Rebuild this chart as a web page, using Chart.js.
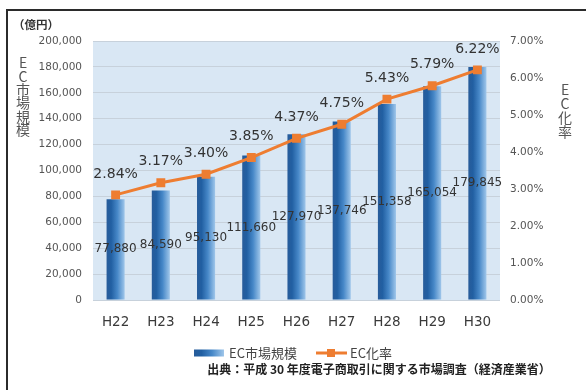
<!DOCTYPE html>
<html lang="ja">
<head>
<meta charset="utf-8">
<script src="https://cdn.jsdelivr.net/npm/chart.js@4/dist/chart.umd.min.js"></script>
<style>
  html, body { margin: 0; padding: 0; background: #fff; }
  #wrap { position: relative; width: 586px; height: 390px; }
  #frame {
    position: absolute; left: 6px; top: 9px; right: 0; bottom: 0;
    border-top: 2px solid #2b2b2b; border-left: 2px solid #2b2b2b;
    pointer-events: none;
  }
</style>
</head>
<body>
<div id="wrap">
  <canvas id="myChart" width="586" height="390"></canvas>
  <div id="frame"></div>
</div>
<script>
const years = ["H22", "H23", "H24", "H25", "H26", "H27", "H28", "H29", "H30"];
const marketSize = [77880, 84590, 95130, 111660, 127970, 137746, 151358, 165054, 179845];
const ecRate = [2.84, 3.17, 3.40, 3.85, 4.37, 4.75, 5.43, 5.79, 6.22];
const sizeTicks = [0, 200000, 20000];   // min, max, step
const rateTicks = [0, 7, 1];

const ORANGE = "#ee7d31";
const CJK = '"Noto Sans CJK JP", "Noto Sans", sans-serif';
const LATIN = '"DejaVu Sans", Verdana, sans-serif';

// horizontal shading used on each bar and the legend swatch
function barGradient(c2d, x0, x1) {
  const g = c2d.createLinearGradient(x0, 0, x1, 0);
  g.addColorStop(0, "#285c9a");
  g.addColorStop(0.25, "#215fa2");
  g.addColorStop(0.6, "#4788c8");
  g.addColorStop(1, "#9fc6ea");
  return g;
}

// light blue fill behind the plot area
const plotBackground = {
  id: "plotBackground",
  beforeDraw(chart) {
    const { ctx, chartArea: a } = chart;
    ctx.save();
    ctx.fillStyle = "#d9e7f4";
    ctx.fillRect(a.left, a.top, a.right - a.left, a.bottom - a.top);
    ctx.restore();
  },
};

// value labels: amounts in the middle of bars, rates above the points
const valueLabels = {
  id: "valueLabels",
  afterDatasetsDraw(chart) {
    const ctx = chart.ctx;
    ctx.save();
    ctx.textAlign = "center";
    ctx.textBaseline = "middle";
    ctx.fillStyle = "#333";

    ctx.font = "12px " + LATIN;
    chart.getDatasetMeta(0).data.forEach((el, i) => {
      ctx.fillText(marketSize[i].toLocaleString("en-US"), el.x, (el.y + el.base) / 2);
    });

    ctx.font = "14px " + LATIN;
    chart.getDatasetMeta(1).data.forEach((el, i) => {
      ctx.fillText(ecRate[i].toFixed(2) + "%", el.x, el.y - 21);
    });
    ctx.restore();
  },
};

// unit, stacked axis titles, legend and source line
const decorations = {
  id: "decorations",
  afterDraw(chart) {
    const ctx = chart.ctx;
    ctx.save();
    ctx.textBaseline = "middle";

    ctx.fillStyle = "#333";
    ctx.font = "bold 11.5px " + CJK;
    ctx.textAlign = "left";
    ctx.fillText("（億円）", 13, 25);

    ctx.fillStyle = "#555";
    ctx.font = "14px " + CJK;
    ctx.textAlign = "center";
    [..."EC市場規模"].forEach((ch, i) => ctx.fillText(ch, 23, 63 + i * 13.3));
    [..."EC化率"].forEach((ch, i) => ctx.fillText(ch, 565, 90 + i * 14));

    // legend
    const ly = 353;
    ctx.fillStyle = barGradient(ctx, 194, 224);
    ctx.fillRect(194, ly - 3.5, 30, 7);
    ctx.fillStyle = "#444";
    ctx.font = "13px " + CJK;
    ctx.textAlign = "left";
    ctx.fillText(chart.data.datasets[0].label, 229, ly);

    ctx.strokeStyle = ORANGE;
    ctx.lineWidth = 3;
    ctx.beginPath();
    ctx.moveTo(316, ly);
    ctx.lineTo(347, ly);
    ctx.stroke();
    ctx.fillStyle = ORANGE;
    ctx.fillRect(327, ly - 4, 8, 8);
    ctx.fillStyle = "#444";
    ctx.fillText(chart.data.datasets[1].label, 350, ly);

    // source
    ctx.fillStyle = "#222";
    ctx.font = "bold 12px " + CJK;
    ctx.textAlign = "center";
    ctx.fillText("出典：平成 30 年度電子商取引に関する市場調査（経済産業省）", 379, 369);
    ctx.restore();
  },
};

new Chart(document.getElementById("myChart"), {
  data: {
    labels: years,
    datasets: [
      {
        type: "bar",
        label: "EC市場規模",
        data: marketSize,
        yAxisID: "y",
        order: 2,
        barPercentage: 0.4,
        categoryPercentage: 1,
        backgroundColor: (c) => {
          const chart = c.chart;
          if (!chart.chartArea || c.type !== "data") return "#3a78bd";
          const x = chart.scales.x.getPixelForValue(c.dataIndex);
          return barGradient(chart.ctx, x - 9, x + 9);
        },
      },
      {
        type: "line",
        label: "EC化率",
        data: ecRate,
        yAxisID: "y1",
        order: 1,
        borderColor: ORANGE,
        borderWidth: 3,
        pointStyle: "rect",
        pointRadius: 6.3,
        pointBorderWidth: 0,
        pointBackgroundColor: ORANGE,
      },
    ],
  },
  options: {
    responsive: false,
    animation: false,
    layout: { padding: { top: 41, left: 0, right: 0, bottom: 0 } },
    plugins: {
      legend: { display: false },
      tooltip: { enabled: false },
    },
    scales: {
      x: {
        grid: { display: false, drawTicks: false },
        border: { display: false },
        ticks: { padding: 14, color: "#3a3a3a", font: { family: LATIN, size: 13.5 } },
        afterFit: (s) => { s.height = 90; },
      },
      y: {
        position: "left",
        min: sizeTicks[0],
        max: sizeTicks[1],
        ticks: {
          stepSize: sizeTicks[2],
          padding: 11,
          color: "#555",
          font: { family: LATIN, size: 10.5 },
          callback: (v) => v.toLocaleString("en-US"),
        },
        grid: { color: "#c7d1db", drawTicks: false },
        border: { display: false },
        afterFit: (s) => { s.width = 93; },
      },
      y1: {
        position: "right",
        min: rateTicks[0],
        max: rateTicks[1],
        ticks: {
          stepSize: rateTicks[2],
          padding: 10,
          color: "#555",
          font: { family: LATIN, size: 10.5 },
          callback: (v) => v.toFixed(2) + "%",
        },
        grid: { display: false, drawTicks: false },
        border: { display: false },
        afterFit: (s) => { s.width = 86; },
      },
    },
  },
  plugins: [plotBackground, valueLabels, decorations],
});
</script>
</body>
</html>
